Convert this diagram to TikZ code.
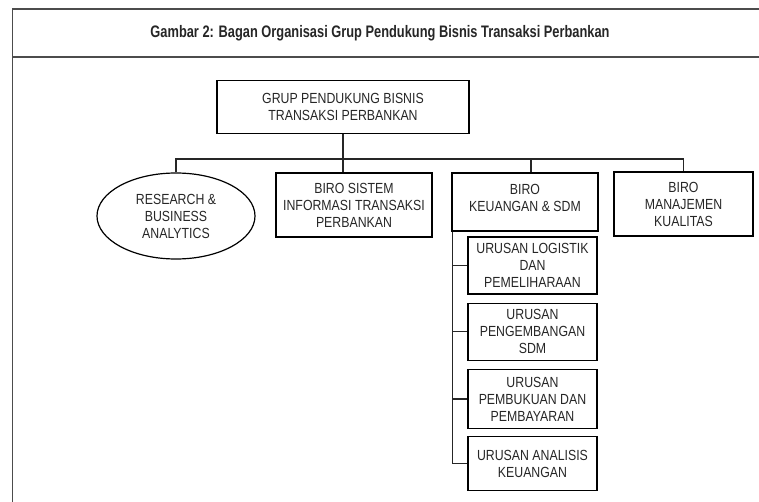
\documentclass[tikz,border=0pt]{standalone}
\usepackage{fontspec}
\setmainfont{Liberation Sans}[FakeStretch=0.84]
\newfontfamily\judulfont{Liberation Sans}[FakeStretch=0.77]
\usetikzlibrary{positioning,shapes.geometric,calc}

\begin{document}
\begin{tikzpicture}[x=0.75pt, y=-0.75pt,
  kotak/.style={draw, line width=0.9pt, align=center, font=\fontsize{11}{12.75}\selectfont, inner sep=2pt, text=black!85},
  bulat/.style={kotak, ellipse},
  garis/.style={line width=0.9pt, black!85},
  bingkai/.style={line width=1.3pt, black!70}]
\useasboundingbox (0,0) rectangle (759,502);

\draw[bingkai] (759,9) -- (12.5,9) -- (12.5,502);
\draw[bingkai] (12.5,57) -- (759,57);
\node[font=\judulfont\bfseries\fontsize{12.5}{15}\selectfont, text=black!85] (judul) at (380,33) {Gambar 2: Bagan Organisasi Grup Pendukung Bisnis Transaksi Perbankan};

\node[kotak, minimum width=189pt, minimum height=39.75pt] (grup) at (343,107) {GRUP PENDUKUNG BISNIS\\TRANSAKSI PERBANKAN};
\coordinate (bus) at (343,159);

\node[bulat, minimum width=118.5pt, minimum height=64.5pt] (riset) at (176,216) {RESEARCH \&\\BUSINESS\\ANALYTICS};
\node[kotak, minimum width=117pt, minimum height=48pt] (biro1) at (354,205) {BIRO SISTEM\\INFORMASI TRANSAKSI\\PERBANKAN};
\node[kotak, minimum width=109.5pt, minimum height=43.5pt] (biro2) at (525,202) {BIRO\\KEUANGAN \& SDM\\[-6pt]};
\node[kotak, minimum width=104.25pt, minimum height=48pt] (biro3) at (683.5,204) {BIRO\\MANAJEMEN\\KUALITAS};

\node[kotak, minimum width=96.75pt, minimum height=42.75pt] (u1) at (532.5,265.5) {URUSAN LOGISTIK\\DAN\\PEMELIHARAAN};
\node[kotak, minimum width=96.75pt, minimum height=42.75pt, below=6pt of u1] (u2) {URUSAN\\PENGEMBANGAN\\SDM};
\node[kotak, minimum width=96.75pt, minimum height=44.25pt, below=6pt of u2] (u3) {URUSAN\\PEMBUKUAN DAN\\PEMBAYARAN};
\node[kotak, minimum width=96.75pt, minimum height=40.5pt, below=5.25pt of u3] (u4) {URUSAN ANALISIS\\KEUANGAN};

\draw[garis] (grup.south) -- (grup.south |- biro1.north);
\draw[garis] (riset.north) -- (riset.north |- bus) -- (biro3.north |- bus) -- (biro3.north);
\draw[garis] ($(biro2.north)+(6,0)$) -- ($(biro2.north |- bus)+(6,0)$);

\coordinate (tulang) at ($(biro2.south west)+(1,0)$);
\draw[garis] (tulang) |- (u4.west);
\draw[garis] (tulang |- u1.west) -- (u1.west);
\draw[garis] (tulang |- u2.west) -- (u2.west);
\draw[garis] (tulang |- u3.west) -- (u3.west);
\end{tikzpicture}
\end{document}
